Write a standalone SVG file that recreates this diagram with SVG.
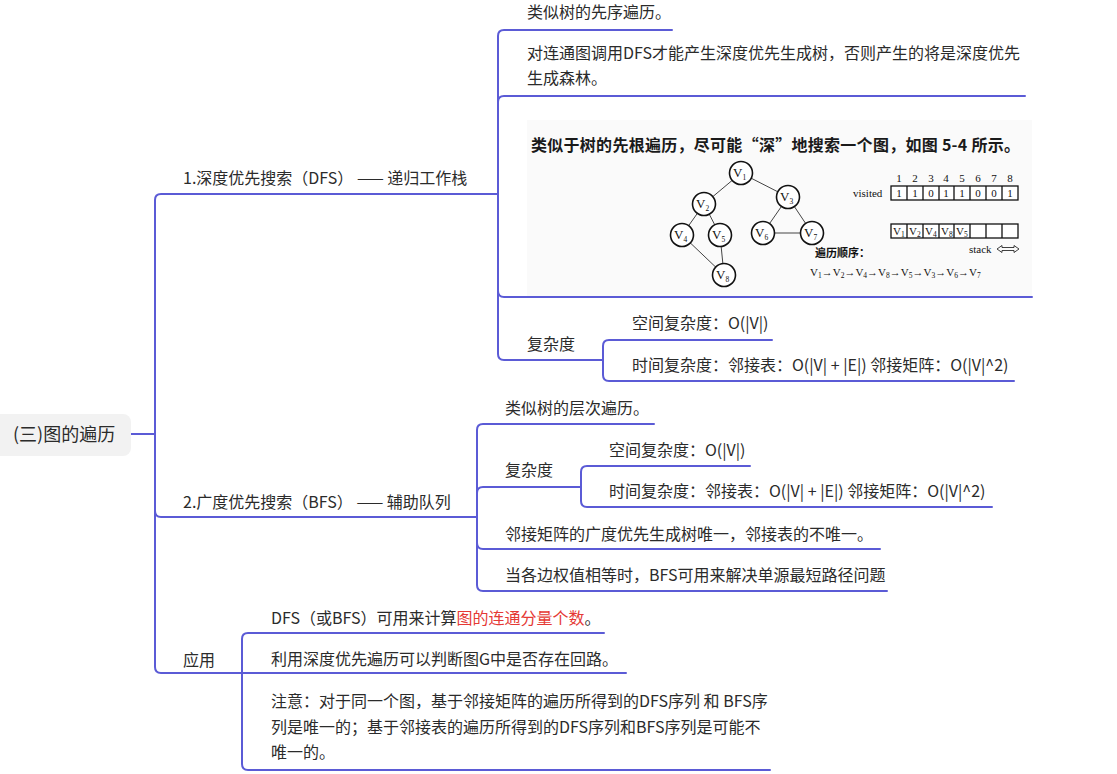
<svg xmlns="http://www.w3.org/2000/svg" width="1117" height="774" viewBox="0 0 1117 774">
<style>
.t{font-family:"Noto Sans CJK SC","Noto Sans",sans-serif;font-size:16px;fill:#2b2b2b}
.root{font-size:18px}
.red{fill:#e53935}
.ln{fill:none;stroke:#5b5bd6;stroke-width:2;stroke-linecap:round}
.title{font-family:"Noto Sans CJK SC",sans-serif;font-size:16px;font-weight:bold;fill:#1a1a1a}
.ser{font-family:"Liberation Serif","DejaVu Serif",serif;font-size:13px;fill:#111}
.sm{font-size:11px}
.sub{font-size:7.5px}
.cn{font-family:"Noto Sans CJK SC",sans-serif;font-size:11px;font-weight:bold;fill:#111}
.circ{fill:#fff;stroke:#111;stroke-width:1.6}
.edge{stroke:#444;stroke-width:1}
.cell{fill:#fff;stroke:#111;stroke-width:1.3}
</style>
<rect width="1117" height="774" fill="#fff"/>
<g id="connectors">
<path class="ln" d="M131,434 H155"/>
<path class="ln" d="M155,434 V200 Q155,194 161,194 H498"/>
<path class="ln" d="M155,434 V511 Q155,517 161,517 H477"/>
<path class="ln" d="M155,434 V667 Q155,673 161,673 H242"/>
<path class="ln" d="M498,194 V36 Q498,30 504,30 H672"/>
<path class="ln" d="M498,194 V102 Q498,96 504,96 H1025"/>
<path class="ln" d="M498,194 V291 Q498,297 504,297 H1032"/>
<path class="ln" d="M498,194 V354 Q498,360 504,360 H603"/>
<path class="ln" d="M603,360 V346 Q603,340 609,340 H772"/>
<path class="ln" d="M603,360 V375 Q603,381 609,381 H1014"/>
<path class="ln" d="M477,517 V430 Q477,424 483,424 H654"/>
<path class="ln" d="M477,517 V493 Q477,487 483,487 H581"/>
<path class="ln" d="M477,517 V543 Q477,549 483,549 H880"/>
<path class="ln" d="M477,517 V585 Q477,591 483,591 H887"/>
<path class="ln" d="M581,487 V472 Q581,466 587,466 H750"/>
<path class="ln" d="M581,487 V501 Q581,507 587,507 H992"/>
<path class="ln" d="M242,673 V639 Q242,633 248,633 H604"/>
<path class="ln" d="M242,673 H626"/>
<path class="ln" d="M242,673 V764 Q242,770 248,770 H770"/>
</g>
<g id="root">
<rect x="-8" y="414" width="139" height="42" rx="8" fill="#f2f2f2"/>
<text class="t root" x="13" y="441">(三)图的遍历</text>
</g>
<g id="dfs"><text class="t" x="183" y="184">1.深度优先搜索（DFS） —— 递归工作栈</text></g>
<g id="dfs-1"><text class="t" x="527" y="18">类似树的先序遍历。</text></g>
<g id="dfs-2"><text class="t" x="527" y="59">对连通图调用DFS才能产生深度优先生成树，否则产生的将是深度优先</text><text class="t" x="527" y="84">生成森林。</text></g>
<g id="dfs-img">
<rect x="527" y="120" width="505" height="176" fill="#fafafa"/>
<text class="title" x="531" y="151" textLength="489" lengthAdjust="spacing">类似于树的先根遍历，尽可能“深”地搜索一个图，如图 5-4 所示。</text>
<g>
<line class="edge" x1="741" y1="173" x2="704" y2="204"/>
<line class="edge" x1="741" y1="173" x2="788" y2="197"/>
<line class="edge" x1="704" y1="204" x2="682" y2="235"/>
<line class="edge" x1="704" y1="204" x2="720" y2="235"/>
<line class="edge" x1="788" y1="197" x2="763" y2="233"/>
<line class="edge" x1="788" y1="197" x2="812" y2="233"/>
<line class="edge" x1="763" y1="233" x2="812" y2="233"/>
<line class="edge" x1="682" y1="235" x2="724" y2="275"/>
<line class="edge" x1="720" y1="235" x2="724" y2="275"/>
<circle class="circ" cx="741" cy="173" r="11.5"/>
<circle class="circ" cx="704" cy="204" r="11.5"/>
<circle class="circ" cx="788" cy="197" r="11.5"/>
<circle class="circ" cx="682" cy="235" r="11.5"/>
<circle class="circ" cx="720" cy="235" r="11.5"/>
<circle class="circ" cx="763" cy="233" r="11.5"/>
<circle class="circ" cx="812" cy="233" r="11.5"/>
<circle class="circ" cx="724" cy="275" r="11.5"/>
<text class="ser" x="733" y="177">V<tspan class="sub" dy="3">1</tspan></text>
<text class="ser" x="696" y="208">V<tspan class="sub" dy="3">2</tspan></text>
<text class="ser" x="780" y="201">V<tspan class="sub" dy="3">3</tspan></text>
<text class="ser" x="674" y="239">V<tspan class="sub" dy="3">4</tspan></text>
<text class="ser" x="712" y="239">V<tspan class="sub" dy="3">5</tspan></text>
<text class="ser" x="755" y="237">V<tspan class="sub" dy="3">6</tspan></text>
<text class="ser" x="804" y="237">V<tspan class="sub" dy="3">7</tspan></text>
<text class="ser" x="716" y="279">V<tspan class="sub" dy="3">8</tspan></text>
</g>
<g>
<text class="ser sm" x="853" y="197">visited</text>
<text class="ser sm" text-anchor="middle" y="182"><tspan x="899">1</tspan><tspan x="915">2</tspan><tspan x="931">3</tspan><tspan x="946">4</tspan><tspan x="962">5</tspan><tspan x="978">6</tspan><tspan x="994">7</tspan><tspan x="1010">8</tspan></text>
<rect class="cell" x="891" y="186" width="127" height="14"/>
<path d="M907,186V200M923,186V200M939,186V200M954,186V200M970,186V200M986,186V200M1002,186V200" stroke="#111" stroke-width="1.3"/>
<text class="ser sm" text-anchor="middle" y="197"><tspan x="899">1</tspan><tspan x="915">1</tspan><tspan x="931">0</tspan><tspan x="946">1</tspan><tspan x="962">1</tspan><tspan x="978">0</tspan><tspan x="994">0</tspan><tspan x="1010">1</tspan></text>
<rect class="cell" x="891" y="224" width="127" height="14"/>
<path d="M907,224V238M923,224V238M939,224V238M954,224V238M970,224V238M986,224V238M1002,224V238" stroke="#111" stroke-width="1.3"/>
<text class="ser sm" x="893" y="235">V<tspan class="sub" dy="2">1</tspan></text>
<text class="ser sm" x="909" y="235">V<tspan class="sub" dy="2">2</tspan></text>
<text class="ser sm" x="925" y="235">V<tspan class="sub" dy="2">4</tspan></text>
<text class="ser sm" x="941" y="235">V<tspan class="sub" dy="2">8</tspan></text>
<text class="ser sm" x="956" y="235">V<tspan class="sub" dy="2">5</tspan></text>
<text class="ser sm" x="969" y="253">stack</text>
<path d="M997,249 L1002,245.5 V247.5 H1014 V245.5 L1019,249 L1014,252.5 V250.5 H1002 V252.5 Z" fill="none" stroke="#111" stroke-width="0.8"/>
<text class="cn" x="815" y="257">遍历顺序：</text>
<text class="ser sm" x="810" y="276">V<tspan class="sub" dy="2">1</tspan><tspan dy="-2">→V</tspan><tspan class="sub" dy="2">2</tspan><tspan dy="-2">→V</tspan><tspan class="sub" dy="2">4</tspan><tspan dy="-2">→V</tspan><tspan class="sub" dy="2">8</tspan><tspan dy="-2">→V</tspan><tspan class="sub" dy="2">5</tspan><tspan dy="-2">→V</tspan><tspan class="sub" dy="2">3</tspan><tspan dy="-2">→V</tspan><tspan class="sub" dy="2">6</tspan><tspan dy="-2">→V</tspan><tspan class="sub" dy="2">7</tspan></text>
</g>
</g>
<g id="dfs-cx"><text class="t" x="527" y="350">复杂度</text></g>
<g id="dfs-cx-space"><text class="t" x="632" y="329">空间复杂度：O(|V|)</text></g>
<g id="dfs-cx-time"><text class="t" x="632" y="371">时间复杂度：邻接表：O(|V| + |E|) 邻接矩阵：O(|V|^2)</text></g>
<g id="bfs"><text class="t" x="183" y="508">2.广度优先搜索（BFS） —— 辅助队列</text></g>
<g id="bfs-1"><text class="t" x="505" y="414">类似树的层次遍历。</text></g>
<g id="bfs-cx"><text class="t" x="505" y="476">复杂度</text></g>
<g id="bfs-cx-space"><text class="t" x="609" y="456">空间复杂度：O(|V|)</text></g>
<g id="bfs-cx-time"><text class="t" x="609" y="497">时间复杂度：邻接表：O(|V| + |E|) 邻接矩阵：O(|V|^2)</text></g>
<g id="bfs-3"><text class="t" x="505" y="540">邻接矩阵的广度优先生成树唯一，邻接表的不唯一。</text></g>
<g id="bfs-4"><text class="t" x="505" y="581">当各边权值相等时，BFS可用来解决单源最短路径问题</text></g>
<g id="app"><text class="t" x="183" y="666">应用</text></g>
<g id="app-1"><text class="t" x="271" y="624">DFS（或BFS）可用来计算<tspan class="red">图的连通分量个数</tspan>。</text></g>
<g id="app-2"><text class="t" x="271" y="665">利用深度优先遍历可以判断图G中是否存在回路。</text></g>
<g id="app-3"><text class="t" x="271" y="707">注意：对于同一个图，基于邻接矩阵的遍历所得到的DFS序列 和 BFS序</text><text class="t" x="271" y="733">列是唯一的；基于邻接表的遍历所得到的DFS序列和BFS序列是可能不</text><text class="t" x="271" y="758">唯一的。</text></g>
</svg>
